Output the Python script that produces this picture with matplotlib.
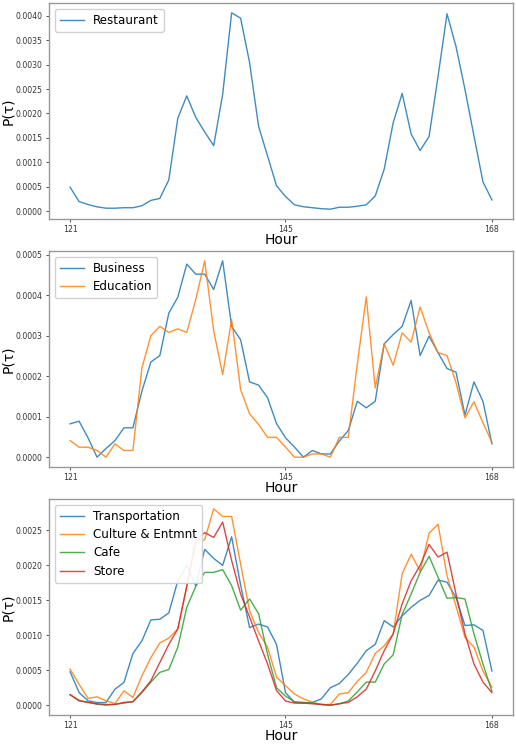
import matplotlib
matplotlib.use("Agg")
import matplotlib.pyplot as plt
import numpy as np

hours = list(range(121, 169))

restaurant = [0.00049, 0.000196, 0.000135, 0.000088, 0.00006, 0.00006, 0.00007, 0.00007,
              0.00011, 0.00022, 0.00026, 0.00064, 0.0019, 0.00236, 0.00192, 0.00162,
              0.00134, 0.00239, 0.00406, 0.00395, 0.00304, 0.00174, 0.00113, 0.00052,
              0.00030, 0.00013, 0.00009, 0.00007, 0.00005, 0.00004, 0.00008, 0.00008,
              0.00010, 0.00013, 0.00031, 0.00086, 0.00181, 0.00241, 0.00158, 0.00124,
              0.00153, 0.00276, 0.00404, 0.00337, 0.00249, 0.00154, 0.00060, 0.00023]

business = [0.0000824, 0.0000889, 0.0000478, 0.0, 0.0000215, 0.000041, 0.0000725, 0.0000725,
            0.000163, 0.000235, 0.000251, 0.000356, 0.000395, 0.000477, 0.000452, 0.000452,
            0.000414, 0.000485, 0.000323, 0.00029, 0.000186, 0.000178, 0.000147, 0.000083,
            0.000048, 0.000025, 0.0, 0.0000165, 0.000008, 0.000008, 0.00004, 0.000066,
            0.000138, 0.000122, 0.000138, 0.00028, 0.000303, 0.000323, 0.000387, 0.000251,
            0.000299, 0.000258, 0.000219, 0.00021, 0.000104, 0.000186, 0.000138, 0.000033]

education = [0.000041, 0.0000247, 0.0000247, 0.0000165, 0.0, 0.000033, 0.0000165, 0.0000165,
             0.00022, 0.0003, 0.000323, 0.000308, 0.000317, 0.000308, 0.000389, 0.000485,
             0.000312, 0.000204, 0.00034, 0.000167, 0.000107, 0.000081, 0.000049, 0.000049,
             0.000025, 0.0, 0.0, 0.000008, 0.000008, 0.0, 0.000049, 0.000049,
             0.00023, 0.000396, 0.000171, 0.00028, 0.000227, 0.000307, 0.000284, 0.000371,
             0.000307, 0.000258, 0.000251, 0.000184, 0.000097, 0.000137, 0.000085, 0.000037]

transportation = [0.000478, 0.000182, 0.000062, 0.000038, 0.000038, 0.000229, 0.000325, 0.00074,
                  0.00092, 0.00122, 0.00123, 0.00132, 0.00178, 0.0020, 0.00171, 0.00223,
                  0.00210, 0.0020, 0.00241, 0.00172, 0.00111, 0.00116, 0.00112, 0.00087,
                  0.00018, 0.00004, 0.00003, 0.00004, 0.00009, 0.00025, 0.00031, 0.00044,
                  0.0006, 0.00078, 0.00087, 0.00121, 0.00112, 0.00128, 0.0014, 0.0015,
                  0.00157, 0.00179, 0.00176, 0.00154, 0.00114, 0.00115, 0.00107, 0.00049]

culture = [0.000516, 0.0003, 0.000096, 0.00012, 0.000062, 0.000024, 0.000205, 0.00011,
           0.00042, 0.00068, 0.00089, 0.00096, 0.00109, 0.0017, 0.00231, 0.00237,
           0.00281, 0.0027, 0.0027, 0.00202, 0.00135, 0.00104, 0.00083, 0.0004,
           0.00028, 0.00016, 0.00009, 0.00004, 0.00001, 0.00001, 0.00016, 0.00018,
           0.00034, 0.00047, 0.00074, 0.00085, 0.00102, 0.00188, 0.00216, 0.00192,
           0.00246, 0.00259, 0.00185, 0.00142, 0.00097, 0.00083, 0.00049, 0.00026]

cafe = [0.00015, 0.00006, 0.00004, 0.000014, 0.0, 0.000014, 0.00003, 0.00005,
        0.00018, 0.00033, 0.00047, 0.00051, 0.00083, 0.0014, 0.0017, 0.0019,
        0.0019, 0.00194, 0.00171, 0.00136, 0.00152, 0.00131, 0.00073, 0.00025,
        0.00013, 0.00005, 0.00004, 0.00003, 0.00001, 0.0, 0.00002, 0.00006,
        0.00019, 0.00033, 0.00033, 0.00059, 0.00072, 0.0013, 0.00159, 0.0019,
        0.00213, 0.00183, 0.00153, 0.00154, 0.00152, 0.00102, 0.00059, 0.0002]

store = [0.00015, 0.00007, 0.00004, 0.00002, 0.00001, 0.00001, 0.00004, 0.00005,
         0.00019, 0.00035, 0.00061, 0.00087, 0.00109, 0.0017, 0.00236, 0.00247,
         0.0024, 0.00262, 0.00207, 0.00159, 0.00126, 0.00092, 0.00059, 0.00021,
         0.00006, 0.00003, 0.00003, 0.00002, 0.00001, 0.0, 0.00002, 0.00004,
         0.00012, 0.00023, 0.00049, 0.00078, 0.00102, 0.00145, 0.00178, 0.002,
         0.0023, 0.00212, 0.00219, 0.00159, 0.00102, 0.00059, 0.00033, 0.00018]

xticks = [121, 145, 168]

panels = [
    [("Restaurant", restaurant, "#1f77b4")],
    [("Business", business, "#1f77b4"), ("Education", education, "#ff7f0e")],
    [("Transportation", transportation, "#1f77b4"), ("Culture & Entmnt", culture, "#ff7f0e"),
     ("Cafe", cafe, "#2ca02c"), ("Store", store, "#d62728")],
]

fig = plt.figure(figsize=(5.16, 7.45), dpi=100)
W, H = 516, 745
tops = [3, 251, 499]
ax_h = 216
left, right = 49, 513

for top, series in zip(tops, panels):
    ax = fig.add_axes([left / W, 1 - (top + ax_h) / H, (right - left) / W, ax_h / H])
    for name, vals, col in series:
        ax.plot(hours, vals, color=col, lw=1.0, alpha=0.85, label=name)
    ax.set_xticks(xticks)
    ax.tick_params(labelsize=5.6, length=2.5, width=0.6, pad=2, colors="#333333")
    for sp in ax.spines.values():
        sp.set_color("#999999")
        sp.set_linewidth(1.0)
    ax.set_xlabel("Hour", fontsize=10, labelpad=-1)
    ax.set_ylabel("P(τ)", fontsize=10)
    ax.yaxis.set_label_coords(-0.074, 0.5)
    ax.legend(loc="upper left", fontsize=8.6, handlelength=2.0, borderpad=0.4,
              labelspacing=0.45, framealpha=0.9)

fig.savefig("out.png", dpi=100)
